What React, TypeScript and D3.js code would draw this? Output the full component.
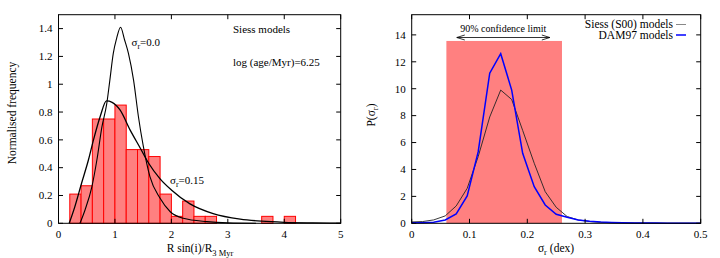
import React from 'react';
import * as d3 from 'd3';

// left panel: histogram of R sin(i)/R_3Myr
const binStarts = [0.2, 0.4, 0.6, 0.8, 1.0, 1.2, 1.4, 1.6, 1.8, 2.0, 2.2, 2.4, 2.6, 3.6, 4.0];
const binHeights = [0.21, 0.27, 0.75, 0.75, 0.85, 0.53, 0.53, 0.48, 0.21, 0.05, 0.16, 0.05, 0.05, 0.05, 0.05];
const binWidth = 0.2;

const sig0X = [0.38, 0.47, 0.59, 0.68, 0.77, 0.855, 0.91, 0.97, 1.03, 1.1, 1.17, 1.24, 1.33, 1.415, 1.5, 1.62, 1.8, 1.98, 2.21, 2.63, 3.0, 3.5];
const sig0Y = [0, 0.096, 0.26, 0.455, 0.695, 0.86, 1.03, 1.22, 1.33, 1.41, 1.32, 1.22, 1.03, 0.77, 0.56, 0.335, 0.18, 0.083, 0.036, 0.012, 0.003, 0];

const sig15X = [0.19, 0.29, 0.41, 0.53, 0.62, 0.74, 0.85, 0.95, 1.09, 1.27, 1.45, 1.6, 1.8, 2.0, 2.33, 2.74, 3.22, 3.6, 4.0, 4.5, 5.0];
const sig15Y = [0, 0.12, 0.29, 0.455, 0.6, 0.77, 0.88, 0.87, 0.815, 0.67, 0.54, 0.43, 0.32, 0.24, 0.14, 0.07, 0.03, 0.015, 0.007, 0.003, 0.001];

const leftXTicks = [0, 1, 2, 3, 4, 5];
const leftYTicks = [0, 0.2, 0.4, 0.6, 0.8, 1, 1.2, 1.4];

// right panel: P(sigma_r)
const sigmaGrid = [0, 0.019, 0.038, 0.058, 0.077, 0.096, 0.115, 0.135, 0.154, 0.173, 0.192, 0.212, 0.231, 0.25, 0.269, 0.288, 0.308, 0.327, 0.346, 0.365, 0.385, 0.404, 0.423, 0.442, 0.462, 0.481, 0.5];
const siessP = [0.1, 0.13, 0.25, 0.55, 1.29, 2.6, 4.95, 7.9, 9.9, 9.2, 6.9, 4.46, 2.35, 1.19, 0.5, 0.25, 0.13, 0.07, 0.04, 0.03, 0.02, 0.02, 0.01, 0.01, 0.01, 0.01, 0.01];
const dam97P = [0.05, 0.05, 0.08, 0.25, 0.69, 2.03, 5.3, 11.15, 12.6, 9.9, 5.2, 2.72, 1.36, 0.67, 0.45, 0.25, 0.15, 0.09, 0.06, 0.04, 0.03, 0.02, 0.02, 0.01, 0.01, 0.01, 0.01];
const confLimits = [0.06, 0.26];
const confHeight = 13.55;
const arrowLimits = [0.078, 0.239];

const rightXTicks = [0, 0.1, 0.2, 0.3, 0.4, 0.5];
const rightYTicks = [0, 2, 4, 6, 8, 10, 12, 14];

const FONT = "'Liberation Serif', 'DejaVu Serif', serif";
const TICK = 4.5;

function Frame({ x, y, xTicks, yTicks }: any) {
  const [x0, x1] = x.range();
  const [y0, y1] = y.range();
  return (
    <g>
      <rect x={x0} y={y1} width={x1 - x0} height={y0 - y1} fill="none" stroke="#000" strokeWidth={1} />
      {xTicks.map((t: number) => (
        <g key={'x' + t}>
          <line x1={x(t)} x2={x(t)} y1={y0} y2={y0 - TICK} stroke="#000" />
          <line x1={x(t)} x2={x(t)} y1={y1} y2={y1 + TICK} stroke="#000" />
          <text x={x(t)} y={y0 + 15} textAnchor="middle" fontSize={11}>{String(t)}</text>
        </g>
      ))}
      {yTicks.map((t: number) => (
        <g key={'y' + t}>
          <line x1={x0} x2={x0 + TICK} y1={y(t)} y2={y(t)} stroke="#000" />
          <line x1={x1} x2={x1 - TICK} y1={y(t)} y2={y(t)} stroke="#000" />
          <text x={x0 - 6} y={y(t) + 3.8} textAnchor="end" fontSize={11}>{String(t)}</text>
        </g>
      ))}
    </g>
  );
}

export default function App() {
  // left panel scales
  const lx = d3.scaleLinear().domain([0, 5]).range([58.5, 340.7]);
  const ly = d3.scaleLinear().domain([0, 1.5]).range([223.3, 14.7]);
  const mk = (xs: number[], ys: number[]) =>
    d3.line<number>()
      .x((_, i) => lx(xs[i]))
      .y((v) => ly(v))
      .curve(d3.curveMonotoneX)(ys) || '';

  // right panel scales
  const rx = d3.scaleLinear().domain([0, 0.5]).range([411.7, 700.7]);
  const ry = d3.scaleLinear().domain([0, 15.5]).range([223.3, 14.7]);
  const rline = (ys: number[]) =>
    d3.line<number>().x((_, i) => rx(sigmaGrid[i])).y((v) => ry(v))(ys) || '';

  const ay = 37.5;
  const a0 = rx(arrowLimits[0]);
  const a1 = rx(arrowLimits[1]);

  return (
    <svg width={720} height={258} style={{ position: 'absolute', left: 0, top: 0, background: '#fff', fontFamily: FONT }}>
      {/* ---------- left panel ---------- */}
      {binStarts.map((b, i) => (
        <rect key={i} x={lx(b)} y={ly(binHeights[i])} width={lx(b + binWidth) - lx(b)}
          height={ly(0) - ly(binHeights[i])} fill="#ff8080" stroke="#ff0000" strokeWidth={1} />
      ))}
      <path d={mk(sig0X, sig0Y)} fill="none" stroke="#000" strokeWidth={1.1} />
      <path d={mk(sig15X, sig15Y)} fill="none" stroke="#000" strokeWidth={1.3} />
      <Frame x={lx} y={ly} xTicks={leftXTicks} yTicks={leftYTicks} />
      <text x={131.5} y={45.5} fontSize={11}>σ<tspan fontSize={8} dy={3}>r</tspan><tspan dy={-3}>=0.0</tspan></text>
      <text x={170} y={184} fontSize={11}>σ<tspan fontSize={8} dy={3}>r</tspan><tspan dy={-3}>=0.15</tspan></text>
      <text x={233} y={33} fontSize={11}>Siess models</text>
      <text x={233} y={66} fontSize={11}>log (age/Myr)=6.25</text>
      <text x={200} y={252} textAnchor="middle" fontSize={11.5}>R sin(i)/R<tspan fontSize={8.5} dy={3.5}>3 Myr</tspan></text>
      <text transform="translate(16,113) rotate(-90)" textAnchor="middle" fontSize={11.5}>Normalised frequency</text>

      {/* ---------- right panel ---------- */}
      <rect x={rx(confLimits[0])} y={ry(confHeight)} width={rx(confLimits[1]) - rx(confLimits[0])}
        height={ry(0) - ry(confHeight)} fill="#ff8080" />
      <path d={rline(siessP)} fill="none" stroke="#222" strokeWidth={0.9} />
      <path d={rline(dam97P)} fill="none" stroke="#0000ff" strokeWidth={1.5} />
      <Frame x={rx} y={ry} xTicks={rightXTicks} yTicks={rightYTicks} />
      <line x1={a0} x2={a1} y1={ay} y2={ay} stroke="#000" strokeWidth={0.8} />
      <path d={`M${a0 + 8},${ay - 2.5}L${a0},${ay}L${a0 + 8},${ay + 2.5}`} fill="none" stroke="#000" strokeWidth={0.8} />
      <path d={`M${a1 - 8},${ay - 2.5}L${a1},${ay}L${a1 - 8},${ay + 2.5}`} fill="none" stroke="#000" strokeWidth={0.8} />
      <text x={(a0 + a1) / 2} y={32} textAnchor="middle" fontSize={10}>90% confidence limit</text>
      <text x={673} y={28} textAnchor="end" fontSize={11.5}>Siess (S00) models</text>
      <line x1={676} x2={686} y1={24.5} y2={24.5} stroke="#888" strokeWidth={1} />
      <text x={673} y={38.5} textAnchor="end" fontSize={11.5}>DAM97 models</text>
      <line x1={676} x2={686} y1={35} y2={35} stroke="#0000ff" strokeWidth={1.5} />
      <text x={556} y={252} textAnchor="middle" fontSize={11.5}>σ<tspan fontSize={8.5} dy={3}>r</tspan><tspan dy={-3}> (dex)</tspan></text>
      <text transform="translate(375,115) rotate(-90)" textAnchor="middle" fontSize={11.5}>P(σ<tspan fontSize={8.5} dy={3}>r</tspan><tspan dy={-3}>)</tspan></text>
    </svg>
  );
}
